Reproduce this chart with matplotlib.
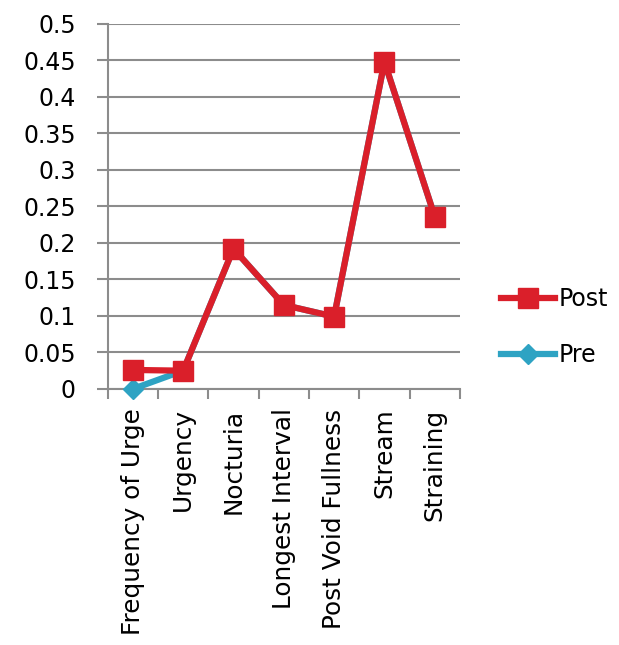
import matplotlib.pyplot as plt
import numpy as np

plt.rcParams['font.family'] = ['DejaVu Sans']

# symptom categories and scores
categories = ['Frequency of Urge', 'Urgency', 'Nocturia', 'Longest Interval',
              'Post Void Fullness', 'Stream', 'Straining']
pre = [0.0, 0.025, 0.192, 0.115, 0.099, 0.448, 0.236]
post = [0.026, 0.025, 0.192, 0.115, 0.099, 0.448, 0.236]
yticks = [0, 0.05, 0.1, 0.15, 0.2, 0.25, 0.3, 0.35, 0.4, 0.45, 0.5]
ytick_labels = ['0', '0.05', '0.1', '0.15', '0.2', '0.25', '0.3', '0.35', '0.4', '0.45', '0.5']

red = '#DA1F2A'
blue = '#2EA3C3'
grid_col = '#8C8C8C'
fs = 17

fig = plt.figure(figsize=(6.19, 6.45), dpi=100)
ax = fig.add_axes([0.174, 0.397, 0.569, 0.566])

x = np.arange(len(categories))
ax.plot(x, pre, color=blue, lw=4.5, marker='D', ms=10, label='Pre', zorder=3, clip_on=False)
ax.plot(x, post, color=red, lw=4.5, marker='s', ms=14, label='Post', zorder=4, clip_on=False)

ax.set_xlim(-0.5, len(categories) - 0.5)
ax.set_ylim(0, 0.5)
ax.set_yticks(yticks)
ax.set_yticklabels(ytick_labels, fontsize=fs)
ax.yaxis.grid(True, color=grid_col, lw=1.5)
ax.set_axisbelow(True)

# tick marks between categories, labels at centres
ax.set_xticks(np.arange(-0.5, len(categories)))
ax.set_xticklabels([])
ax.set_xticks(x, minor=True)
ax.set_xticklabels(categories, minor=True, rotation=90, fontsize=17.8)
ax.tick_params(axis='x', which='major', length=7, width=1.5, color=grid_col, direction='out')
ax.tick_params(axis='x', which='minor', length=0, pad=14)
ax.tick_params(axis='y', length=8, width=1.5, color=grid_col, direction='out', pad=15)

for side in ['top', 'right']:
    ax.spines[side].set_visible(False)
for side in ['left', 'bottom']:
    ax.spines[side].set_color(grid_col)
    ax.spines[side].set_linewidth(1.5)

handles, labels = ax.get_legend_handles_labels()
fig.legend(handles[::-1], labels[::-1], loc='center left', bbox_to_anchor=(0.775, 0.493),
           frameon=False, fontsize=fs, handlelength=2.3, handletextpad=0.15,
           labelspacing=1.35)

fig.savefig('out.png', dpi=100)
